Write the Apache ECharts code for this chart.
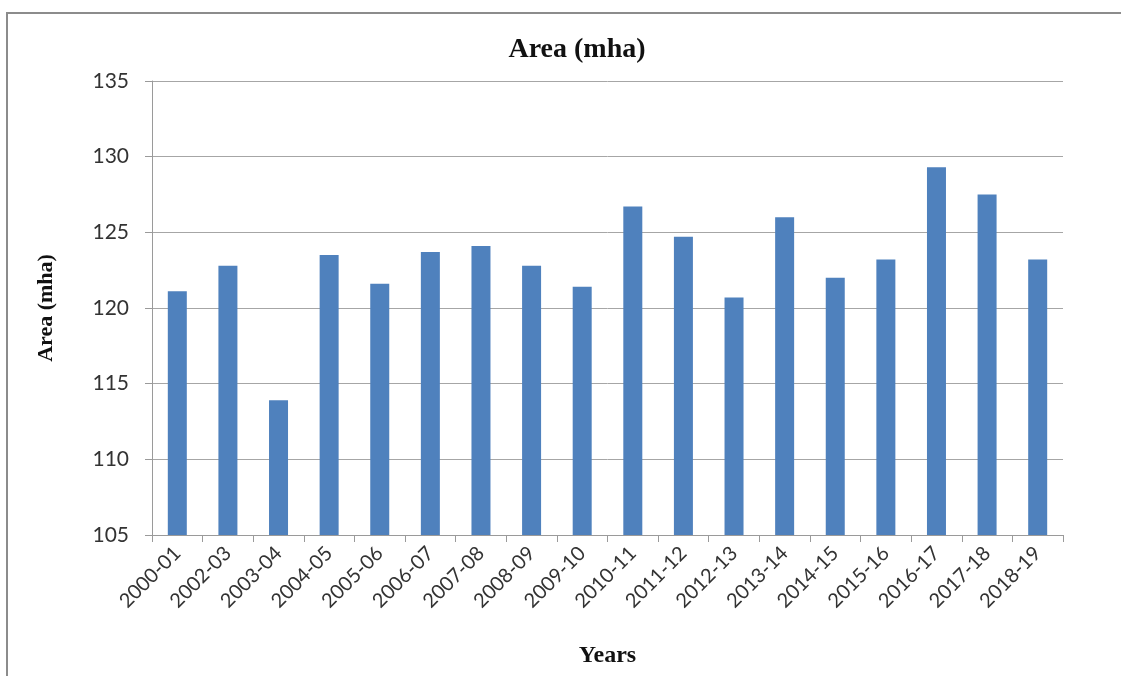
<!DOCTYPE html>
<html>
<head>
<meta charset="utf-8">
<title>Area (mha)</title>
<script src="https://cdn.jsdelivr.net/npm/echarts@6/dist/echarts.min.js"></script>
<style>
  html, body { margin: 0; padding: 0; background: #fff; }
  #chart { width: 1121px; height: 676px; }
</style>
</head>
<body>
<div id="chart"></div>
<script>
// Crop area by year (million hectares)
const years = ['2000-01', '2002-03', '2003-04', '2004-05', '2005-06', '2006-07',
  '2007-08', '2008-09', '2009-10', '2010-11', '2011-12', '2012-13', '2013-14',
  '2014-15', '2015-16', '2016-17', '2017-18', '2018-19'];
const areaMha = [121.1, 122.8, 113.9, 123.5, 121.6, 123.7, 124.1, 122.8, 121.4,
  126.7, 124.7, 120.7, 126.0, 122.0, 123.2, 129.3, 127.5, 123.2];
const yTicks = { min: 105, max: 135, interval: 5 };

const chart = echarts.init(document.getElementById('chart'), null, { renderer: 'canvas' });

const serif = '"Liberation Serif", "DejaVu Serif", serif';
const sans = 'Lato, "Open Sans", "Liberation Sans", sans-serif';

chart.setOption({
  backgroundColor: '#ffffff',
  animation: false,
  graphic: [{
    type: 'rect',
    shape: { x: 7, y: 13, width: 1200, height: 700 },
    style: { fill: 'none', stroke: '#8c8c8c', lineWidth: 2 },
    silent: true
  }],
  title: {
    text: 'Area (mha)',
    left: 572,
    top: 31,
    textAlign: 'center',
    textStyle: { fontFamily: serif, fontWeight: 'bold', fontSize: 28, color: '#111' }
  },
  grid: { left: 152, right: 58, top: 81, bottom: 141, containLabel: false },
  xAxis: {
    type: 'category',
    data: years,
    name: 'Years',
    nameLocation: 'middle',
    nameGap: 109,
    nameTextStyle: { fontFamily: serif, fontWeight: 'bold', fontSize: 24, color: '#111' },
    axisLine: { lineStyle: { color: '#9a9a9a', width: 1 } },
    axisTick: { show: true, length: 7, lineStyle: { color: '#9a9a9a' } },
    axisLabel: {
      rotate: 45,
      margin: 15,
      interval: 0,
      fontFamily: sans,
      fontSize: 20,
      color: '#333'
    },
    splitLine: { show: false }
  },
  yAxis: {
    type: 'value',
    min: yTicks.min,
    max: yTicks.max,
    interval: yTicks.interval,
    name: 'Area (mha)',
    nameLocation: 'middle',
    nameGap: 95,
    nameTextStyle: { fontFamily: serif, fontWeight: 'bold', fontSize: 22, color: '#111' },
    axisLine: { show: true, lineStyle: { color: '#9a9a9a', width: 1 } },
    axisTick: { show: true, length: 7, lineStyle: { color: '#9a9a9a' } },
    axisLabel: { margin: 23, fontFamily: sans, fontSize: 21, color: '#333' },
    splitLine: { show: true, lineStyle: { color: '#a6a6a6', width: 1 } }
  },
  series: [{
    type: 'bar',
    data: areaMha,
    barWidth: 19,
    itemStyle: { color: '#4f81bd' }
  }]
});
</script>
</body>
</html>
